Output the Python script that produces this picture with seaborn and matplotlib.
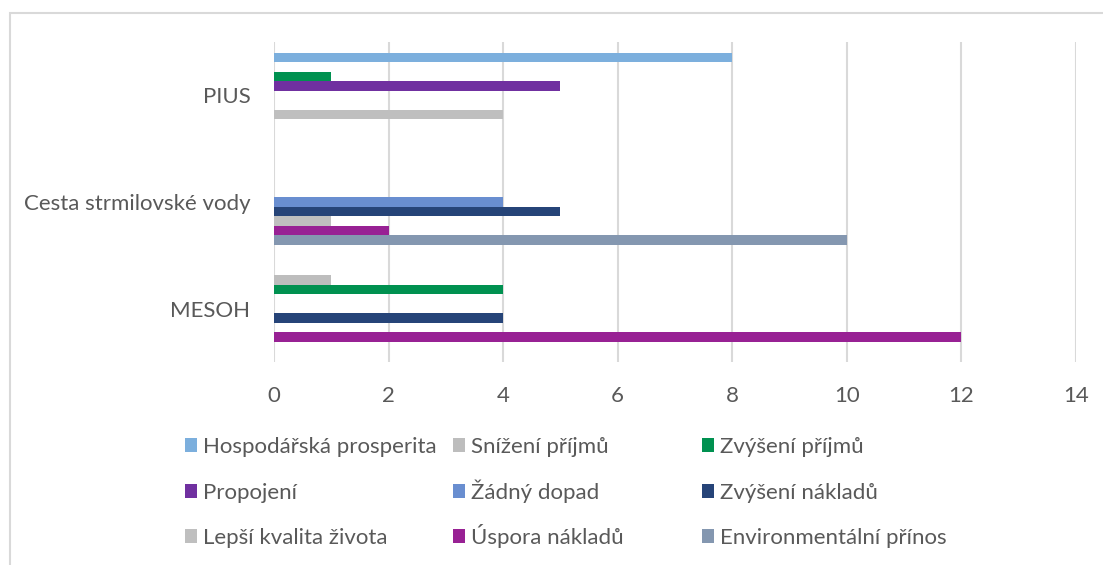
import numpy as np
import pandas as pd
import matplotlib
matplotlib.use("Agg")
import matplotlib.pyplot as plt
from matplotlib.patches import Patch, Rectangle
import seaborn as sns

# categories, top to bottom as in the chart
categories = ["PIUS", "Cesta strmilovské vody", "MESOH"]

series = ["Hospodářská prosperita", "Snížení příjmů", "Zvýšení příjmů",
          "Propojení", "Žádný dopad", "Zvýšení nákladů",
          "Lepší kvalita života", "Úspora nákladů", "Environmentální přínos"]

# values per series for PIUS, Cesta strmilovské vody, MESOH
hospodarska_prosperita = [8, 0, 0]
snizeni_prijmu = [0, 0, 1]
zvyseni_prijmu = [1, 0, 4]
propojeni = [5, 0, 0]
zadny_dopad = [0, 4, 0]
zvyseni_nakladu = [0, 5, 4]
lepsi_kvalita = [4, 1, 0]
uspora_nakladu = [0, 2, 12]
environmentalni = [0, 10, 0]

colors = ["#7CAFDD", "#BDBDBD", "#009150", "#7030A0", "#698ED0",
          "#264478", "#BFBFBF", "#982194", "#8497B0"]

all_values = [hospodarska_prosperita, snizeni_prijmu, zvyseni_prijmu, propojeni,
              zadny_dopad, zvyseni_nakladu, lepsi_kvalita, uspora_nakladu,
              environmentalni]

rows = []
for s, vals in zip(series, all_values):
    for c, v in zip(categories, vals):
        rows.append({"kategorie": c, "dopad": s, "pocet": v})
df = pd.DataFrame(rows)

sns.set_style("white")
plt.rcParams["font.family"] = ["Lato", "DejaVu Sans"]

fig = plt.figure(figsize=(11.03, 5.65), dpi=100)
ax = fig.add_axes([274 / 1103, 1 - 362 / 565, (1076 - 274) / 1103, (362 - 42) / 565])

sns.barplot(data=df, y="kategorie", x="pocet", hue="dopad", order=categories,
            hue_order=series, palette=colors, orient="h", width=0.8,
            saturation=1, linewidth=0, errorbar=None, legend=False, ax=ax)

ax.set_xlim(0, 14)
ax.set_xticks(range(0, 15, 2))
ax.set_xlabel("")
ax.set_ylabel("")
ax.grid(axis="x", color="#D9D9D9", linewidth=1.5)
ax.grid(axis="y", visible=False)
ax.set_axisbelow(True)
for sp in ax.spines.values():
    sp.set_visible(False)
ax.tick_params(axis="x", length=0, pad=17, labelsize=16, labelcolor="#595959")
ax.tick_params(axis="y", length=0, pad=17, labelsize=16, labelcolor="#595959")

# legend: 3 columns x 3 rows, one entry per slot; anchored at the bottom
# so the accented capitals (Ž, Ú) do not push their row out of line
handles = [Patch(facecolor=c, edgecolor="none") for c in colors]
col_x = [185, 453, 702]
row_bottom = [457, 503, 548]
for i, (h, lab) in enumerate(zip(handles, series)):
    r, c = divmod(i, 3)
    fig.legend([h], [lab], loc="lower left",
               bbox_to_anchor=(col_x[c] / 1103, 1 - row_bottom[r] / 565),
               frameon=False, fontsize=16, labelcolor="#595959",
               handlelength=0.55, handleheight=0.55, handletextpad=0.25,
               borderpad=0, borderaxespad=0)

# chart border
fig.patches.append(Rectangle((10 / 1103, -0.1), 1.2, 1.1 - 13 / 565,
                             transform=fig.transFigure, fill=False,
                             edgecolor="#D9D9D9", linewidth=1.5))

fig.savefig("out.png", dpi=100)
